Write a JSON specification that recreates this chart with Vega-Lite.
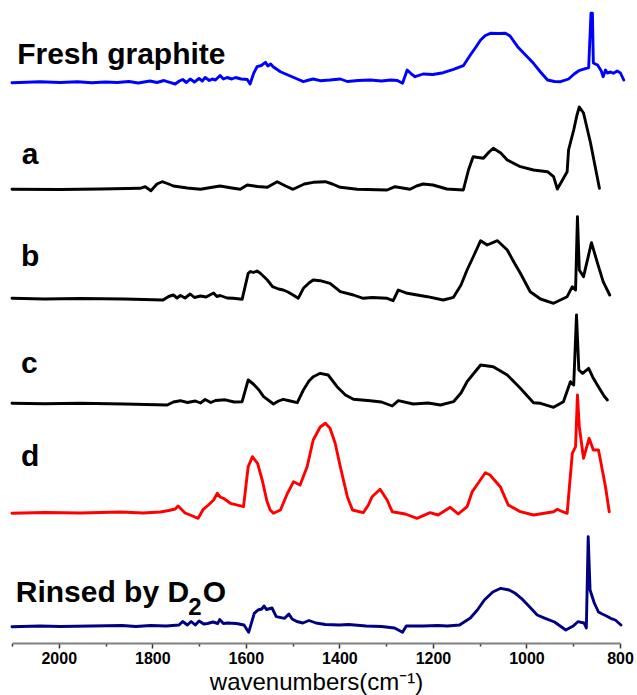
{
  "$schema": "https://vega.github.io/schema/vega-lite/v6.json",
  "width": 608,
  "height": 643,
  "autosize": {"type": "none"},
  "padding": {"left": 12, "top": 0, "right": 17, "bottom": 52},
  "background": "white",
  "config": {"view": {"stroke": null}, "font": "Liberation Sans"},
  "datasets": {
    "spectra": [
      {"series": "Fresh graphite", "wn": 2100, "abs": 5.603},
      {"series": "Fresh graphite", "wn": 2040, "abs": 5.612},
      {"series": "Fresh graphite", "wn": 1997, "abs": 5.605},
      {"series": "Fresh graphite", "wn": 1960, "abs": 5.612},
      {"series": "Fresh graphite", "wn": 1930, "abs": 5.603},
      {"series": "Fresh graphite", "wn": 1900, "abs": 5.61},
      {"series": "Fresh graphite", "wn": 1875, "abs": 5.605},
      {"series": "Fresh graphite", "wn": 1850, "abs": 5.615},
      {"series": "Fresh graphite", "wn": 1830, "abs": 5.6},
      {"series": "Fresh graphite", "wn": 1805, "abs": 5.62},
      {"series": "Fresh graphite", "wn": 1790, "abs": 5.605},
      {"series": "Fresh graphite", "wn": 1775, "abs": 5.625},
      {"series": "Fresh graphite", "wn": 1768, "abs": 5.613},
      {"series": "Fresh graphite", "wn": 1751, "abs": 5.59},
      {"series": "Fresh graphite", "wn": 1742, "abs": 5.62},
      {"series": "Fresh graphite", "wn": 1735, "abs": 5.635},
      {"series": "Fresh graphite", "wn": 1727, "abs": 5.605},
      {"series": "Fresh graphite", "wn": 1719, "abs": 5.64},
      {"series": "Fresh graphite", "wn": 1710, "abs": 5.61},
      {"series": "Fresh graphite", "wn": 1700, "abs": 5.645},
      {"series": "Fresh graphite", "wn": 1693, "abs": 5.62},
      {"series": "Fresh graphite", "wn": 1687, "abs": 5.655},
      {"series": "Fresh graphite", "wn": 1678, "abs": 5.625},
      {"series": "Fresh graphite", "wn": 1672, "abs": 5.64},
      {"series": "Fresh graphite", "wn": 1665, "abs": 5.63},
      {"series": "Fresh graphite", "wn": 1655, "abs": 5.675},
      {"series": "Fresh graphite", "wn": 1648, "abs": 5.64},
      {"series": "Fresh graphite", "wn": 1640, "abs": 5.655},
      {"series": "Fresh graphite", "wn": 1630, "abs": 5.64},
      {"series": "Fresh graphite", "wn": 1622, "abs": 5.655},
      {"series": "Fresh graphite", "wn": 1610, "abs": 5.64},
      {"series": "Fresh graphite", "wn": 1597, "abs": 5.635},
      {"series": "Fresh graphite", "wn": 1591, "abs": 5.59},
      {"series": "Fresh graphite", "wn": 1583, "abs": 5.7},
      {"series": "Fresh graphite", "wn": 1576, "abs": 5.763},
      {"series": "Fresh graphite", "wn": 1567, "abs": 5.775},
      {"series": "Fresh graphite", "wn": 1558, "abs": 5.807},
      {"series": "Fresh graphite", "wn": 1553, "abs": 5.77},
      {"series": "Fresh graphite", "wn": 1547, "abs": 5.79},
      {"series": "Fresh graphite", "wn": 1541, "abs": 5.76},
      {"series": "Fresh graphite", "wn": 1533, "abs": 5.735},
      {"series": "Fresh graphite", "wn": 1526, "abs": 5.713},
      {"series": "Fresh graphite", "wn": 1515, "abs": 5.69},
      {"series": "Fresh graphite", "wn": 1505, "abs": 5.67},
      {"series": "Fresh graphite", "wn": 1490, "abs": 5.64},
      {"series": "Fresh graphite", "wn": 1477, "abs": 5.613},
      {"series": "Fresh graphite", "wn": 1465, "abs": 5.63},
      {"series": "Fresh graphite", "wn": 1456, "abs": 5.64},
      {"series": "Fresh graphite", "wn": 1441, "abs": 5.623},
      {"series": "Fresh graphite", "wn": 1420, "abs": 5.63},
      {"series": "Fresh graphite", "wn": 1398, "abs": 5.64},
      {"series": "Fresh graphite", "wn": 1383, "abs": 5.615},
      {"series": "Fresh graphite", "wn": 1360, "abs": 5.625},
      {"series": "Fresh graphite", "wn": 1334, "abs": 5.63},
      {"series": "Fresh graphite", "wn": 1310, "abs": 5.62},
      {"series": "Fresh graphite", "wn": 1290, "abs": 5.63},
      {"series": "Fresh graphite", "wn": 1276, "abs": 5.625},
      {"series": "Fresh graphite", "wn": 1265, "abs": 5.597},
      {"series": "Fresh graphite", "wn": 1255, "abs": 5.73},
      {"series": "Fresh graphite", "wn": 1246, "abs": 5.69},
      {"series": "Fresh graphite", "wn": 1238, "abs": 5.663},
      {"series": "Fresh graphite", "wn": 1221, "abs": 5.69},
      {"series": "Fresh graphite", "wn": 1200, "abs": 5.685},
      {"series": "Fresh graphite", "wn": 1178, "abs": 5.703},
      {"series": "Fresh graphite", "wn": 1156, "abs": 5.737},
      {"series": "Fresh graphite", "wn": 1135, "abs": 5.773},
      {"series": "Fresh graphite", "wn": 1120, "abs": 5.88},
      {"series": "Fresh graphite", "wn": 1108, "abs": 5.96},
      {"series": "Fresh graphite", "wn": 1098, "abs": 6.03},
      {"series": "Fresh graphite", "wn": 1088, "abs": 6.075},
      {"series": "Fresh graphite", "wn": 1077, "abs": 6.097},
      {"series": "Fresh graphite", "wn": 1060, "abs": 6.095},
      {"series": "Fresh graphite", "wn": 1045, "abs": 6.097},
      {"series": "Fresh graphite", "wn": 1035, "abs": 6.07},
      {"series": "Fresh graphite", "wn": 1019, "abs": 5.963},
      {"series": "Fresh graphite", "wn": 1002, "abs": 5.88},
      {"series": "Fresh graphite", "wn": 985, "abs": 5.797},
      {"series": "Fresh graphite", "wn": 970, "abs": 5.71},
      {"series": "Fresh graphite", "wn": 955, "abs": 5.63},
      {"series": "Fresh graphite", "wn": 940, "abs": 5.615},
      {"series": "Fresh graphite", "wn": 927, "abs": 5.613},
      {"series": "Fresh graphite", "wn": 910, "abs": 5.64},
      {"series": "Fresh graphite", "wn": 898, "abs": 5.69},
      {"series": "Fresh graphite", "wn": 888, "abs": 5.723},
      {"series": "Fresh graphite", "wn": 867, "abs": 5.753},
      {"series": "Fresh graphite", "wn": 862, "abs": 6.297},
      {"series": "Fresh graphite", "wn": 859, "abs": 6.297},
      {"series": "Fresh graphite", "wn": 857, "abs": 5.8},
      {"series": "Fresh graphite", "wn": 848, "abs": 5.78},
      {"series": "Fresh graphite", "wn": 840, "abs": 5.72},
      {"series": "Fresh graphite", "wn": 836, "abs": 5.663},
      {"series": "Fresh graphite", "wn": 831, "abs": 5.73},
      {"series": "Fresh graphite", "wn": 827, "abs": 5.7},
      {"series": "Fresh graphite", "wn": 820, "abs": 5.71},
      {"series": "Fresh graphite", "wn": 814, "abs": 5.697},
      {"series": "Fresh graphite", "wn": 806, "abs": 5.72},
      {"series": "Fresh graphite", "wn": 799, "abs": 5.7},
      {"series": "Fresh graphite", "wn": 792, "abs": 5.63},

      {"series": "a", "wn": 2100, "abs": 4.537},
      {"series": "a", "wn": 1997, "abs": 4.535},
      {"series": "a", "wn": 1911, "abs": 4.54},
      {"series": "a", "wn": 1826, "abs": 4.547},
      {"series": "a", "wn": 1815, "abs": 4.563},
      {"series": "a", "wn": 1803, "abs": 4.523},
      {"series": "a", "wn": 1790, "abs": 4.59},
      {"series": "a", "wn": 1779, "abs": 4.613},
      {"series": "a", "wn": 1765, "abs": 4.59},
      {"series": "a", "wn": 1755, "abs": 4.57},
      {"series": "a", "wn": 1725, "abs": 4.55},
      {"series": "a", "wn": 1697, "abs": 4.537},
      {"series": "a", "wn": 1675, "abs": 4.555},
      {"series": "a", "wn": 1655, "abs": 4.57},
      {"series": "a", "wn": 1630, "abs": 4.55},
      {"series": "a", "wn": 1612, "abs": 4.537},
      {"series": "a", "wn": 1597, "abs": 4.58},
      {"series": "a", "wn": 1575, "abs": 4.565},
      {"series": "a", "wn": 1554, "abs": 4.557},
      {"series": "a", "wn": 1533, "abs": 4.613},
      {"series": "a", "wn": 1515, "abs": 4.57},
      {"series": "a", "wn": 1499, "abs": 4.537},
      {"series": "a", "wn": 1475, "abs": 4.59},
      {"series": "a", "wn": 1456, "abs": 4.607},
      {"series": "a", "wn": 1430, "abs": 4.613},
      {"series": "a", "wn": 1415, "abs": 4.59},
      {"series": "a", "wn": 1398, "abs": 4.557},
      {"series": "a", "wn": 1362, "abs": 4.537},
      {"series": "a", "wn": 1298, "abs": 4.53},
      {"series": "a", "wn": 1281, "abs": 4.563},
      {"series": "a", "wn": 1249, "abs": 4.537},
      {"series": "a", "wn": 1235, "abs": 4.57},
      {"series": "a", "wn": 1221, "abs": 4.59},
      {"series": "a", "wn": 1200, "abs": 4.58},
      {"series": "a", "wn": 1170, "abs": 4.54},
      {"series": "a", "wn": 1135, "abs": 4.53},
      {"series": "a", "wn": 1124, "abs": 4.73},
      {"series": "a", "wn": 1114, "abs": 4.863},
      {"series": "a", "wn": 1092, "abs": 4.847},
      {"series": "a", "wn": 1080, "abs": 4.91},
      {"series": "a", "wn": 1071, "abs": 4.947},
      {"series": "a", "wn": 1055, "abs": 4.9},
      {"series": "a", "wn": 1041, "abs": 4.83},
      {"series": "a", "wn": 1013, "abs": 4.763},
      {"series": "a", "wn": 985, "abs": 4.73},
      {"series": "a", "wn": 955, "abs": 4.713},
      {"series": "a", "wn": 942, "abs": 4.663},
      {"series": "a", "wn": 934, "abs": 4.54},
      {"series": "a", "wn": 923, "abs": 4.63},
      {"series": "a", "wn": 913, "abs": 4.713},
      {"series": "a", "wn": 910, "abs": 4.93},
      {"series": "a", "wn": 899, "abs": 5.13},
      {"series": "a", "wn": 892, "abs": 5.28},
      {"series": "a", "wn": 887, "abs": 5.36},
      {"series": "a", "wn": 878, "abs": 5.3},
      {"series": "a", "wn": 863, "abs": 5.0},
      {"series": "a", "wn": 844, "abs": 4.547},

      {"series": "b", "wn": 2100, "abs": 3.447},
      {"series": "b", "wn": 2030, "abs": 3.44},
      {"series": "b", "wn": 1954, "abs": 3.445},
      {"series": "b", "wn": 1860, "abs": 3.44},
      {"series": "b", "wn": 1777, "abs": 3.43},
      {"series": "b", "wn": 1765, "abs": 3.465},
      {"series": "b", "wn": 1755, "abs": 3.48},
      {"series": "b", "wn": 1747, "abs": 3.45},
      {"series": "b", "wn": 1740, "abs": 3.475},
      {"series": "b", "wn": 1730, "abs": 3.45},
      {"series": "b", "wn": 1719, "abs": 3.49},
      {"series": "b", "wn": 1710, "abs": 3.455},
      {"series": "b", "wn": 1697, "abs": 3.47},
      {"series": "b", "wn": 1685, "abs": 3.46},
      {"series": "b", "wn": 1669, "abs": 3.5},
      {"series": "b", "wn": 1662, "abs": 3.465},
      {"series": "b", "wn": 1655, "abs": 3.475},
      {"series": "b", "wn": 1640, "abs": 3.45},
      {"series": "b", "wn": 1627, "abs": 3.447},
      {"series": "b", "wn": 1608, "abs": 3.437},
      {"series": "b", "wn": 1595, "abs": 3.697},
      {"series": "b", "wn": 1590, "abs": 3.715},
      {"series": "b", "wn": 1584, "abs": 3.705},
      {"series": "b", "wn": 1576, "abs": 3.72},
      {"series": "b", "wn": 1569, "abs": 3.697},
      {"series": "b", "wn": 1554, "abs": 3.63},
      {"series": "b", "wn": 1543, "abs": 3.563},
      {"series": "b", "wn": 1530, "abs": 3.54},
      {"series": "b", "wn": 1520, "abs": 3.53},
      {"series": "b", "wn": 1510, "abs": 3.51},
      {"series": "b", "wn": 1499, "abs": 3.48},
      {"series": "b", "wn": 1488, "abs": 3.447},
      {"series": "b", "wn": 1477, "abs": 3.547},
      {"series": "b", "wn": 1465, "abs": 3.6},
      {"series": "b", "wn": 1456, "abs": 3.63},
      {"series": "b", "wn": 1441, "abs": 3.623},
      {"series": "b", "wn": 1420, "abs": 3.597},
      {"series": "b", "wn": 1398, "abs": 3.513},
      {"series": "b", "wn": 1370, "abs": 3.48},
      {"series": "b", "wn": 1349, "abs": 3.447},
      {"series": "b", "wn": 1330, "abs": 3.455},
      {"series": "b", "wn": 1298, "abs": 3.447},
      {"series": "b", "wn": 1285, "abs": 3.423},
      {"series": "b", "wn": 1274, "abs": 3.53},
      {"series": "b", "wn": 1255, "abs": 3.497},
      {"series": "b", "wn": 1212, "abs": 3.463},
      {"series": "b", "wn": 1178, "abs": 3.43},
      {"series": "b", "wn": 1156, "abs": 3.457},
      {"series": "b", "wn": 1140, "abs": 3.58},
      {"series": "b", "wn": 1127, "abs": 3.73},
      {"series": "b", "wn": 1112, "abs": 3.88},
      {"series": "b", "wn": 1098, "abs": 4.023},
      {"series": "b", "wn": 1084, "abs": 3.98},
      {"series": "b", "wn": 1062, "abs": 4.023},
      {"series": "b", "wn": 1041, "abs": 3.93},
      {"series": "b", "wn": 1027, "abs": 3.81},
      {"series": "b", "wn": 1013, "abs": 3.697},
      {"series": "b", "wn": 992, "abs": 3.513},
      {"series": "b", "wn": 970, "abs": 3.44},
      {"series": "b", "wn": 942, "abs": 3.397},
      {"series": "b", "wn": 913, "abs": 3.463},
      {"series": "b", "wn": 902, "abs": 3.563},
      {"series": "b", "wn": 895, "abs": 3.53},
      {"series": "b", "wn": 891, "abs": 4.263},
      {"series": "b", "wn": 887, "abs": 3.73},
      {"series": "b", "wn": 878, "abs": 3.663},
      {"series": "b", "wn": 861, "abs": 4.003},
      {"series": "b", "wn": 848, "abs": 3.797},
      {"series": "b", "wn": 836, "abs": 3.613},
      {"series": "b", "wn": 822, "abs": 3.48},

      {"series": "c", "wn": 2100, "abs": 2.397},
      {"series": "c", "wn": 2030, "abs": 2.393},
      {"series": "c", "wn": 1954, "abs": 2.397},
      {"series": "c", "wn": 1860, "abs": 2.39},
      {"series": "c", "wn": 1768, "abs": 2.38},
      {"series": "c", "wn": 1755, "abs": 2.41},
      {"series": "c", "wn": 1740, "abs": 2.423},
      {"series": "c", "wn": 1725, "abs": 2.405},
      {"series": "c", "wn": 1708, "abs": 2.42},
      {"series": "c", "wn": 1697, "abs": 2.4},
      {"series": "c", "wn": 1687, "abs": 2.435},
      {"series": "c", "wn": 1675, "abs": 2.405},
      {"series": "c", "wn": 1665, "abs": 2.425},
      {"series": "c", "wn": 1644, "abs": 2.432},
      {"series": "c", "wn": 1625, "abs": 2.41},
      {"series": "c", "wn": 1608, "abs": 2.413},
      {"series": "c", "wn": 1595, "abs": 2.63},
      {"series": "c", "wn": 1584, "abs": 2.59},
      {"series": "c", "wn": 1572, "abs": 2.53},
      {"series": "c", "wn": 1562, "abs": 2.463},
      {"series": "c", "wn": 1541, "abs": 2.39},
      {"series": "c", "wn": 1530, "abs": 2.42},
      {"series": "c", "wn": 1520, "abs": 2.437},
      {"series": "c", "wn": 1505, "abs": 2.42},
      {"series": "c", "wn": 1490, "abs": 2.403},
      {"series": "c", "wn": 1477, "abs": 2.53},
      {"series": "c", "wn": 1465, "abs": 2.62},
      {"series": "c", "wn": 1456, "abs": 2.663},
      {"series": "c", "wn": 1441, "abs": 2.697},
      {"series": "c", "wn": 1424, "abs": 2.68},
      {"series": "c", "wn": 1405, "abs": 2.563},
      {"series": "c", "wn": 1387, "abs": 2.48},
      {"series": "c", "wn": 1370, "abs": 2.437},
      {"series": "c", "wn": 1334, "abs": 2.423},
      {"series": "c", "wn": 1310, "abs": 2.41},
      {"series": "c", "wn": 1287, "abs": 2.37},
      {"series": "c", "wn": 1274, "abs": 2.423},
      {"series": "c", "wn": 1242, "abs": 2.39},
      {"series": "c", "wn": 1210, "abs": 2.4},
      {"series": "c", "wn": 1184, "abs": 2.38},
      {"series": "c", "wn": 1156, "abs": 2.413},
      {"series": "c", "wn": 1140, "abs": 2.5},
      {"series": "c", "wn": 1127, "abs": 2.613},
      {"series": "c", "wn": 1112, "abs": 2.7},
      {"series": "c", "wn": 1098, "abs": 2.78},
      {"series": "c", "wn": 1071, "abs": 2.763},
      {"series": "c", "wn": 1041, "abs": 2.68},
      {"series": "c", "wn": 1013, "abs": 2.547},
      {"series": "c", "wn": 985, "abs": 2.403},
      {"series": "c", "wn": 970, "abs": 2.397},
      {"series": "c", "wn": 942, "abs": 2.357},
      {"series": "c", "wn": 921, "abs": 2.413},
      {"series": "c", "wn": 906, "abs": 2.613},
      {"series": "c", "wn": 899, "abs": 2.58},
      {"series": "c", "wn": 893, "abs": 3.28},
      {"series": "c", "wn": 888, "abs": 2.73},
      {"series": "c", "wn": 880, "abs": 2.697},
      {"series": "c", "wn": 867, "abs": 2.747},
      {"series": "c", "wn": 857, "abs": 2.647},
      {"series": "c", "wn": 842, "abs": 2.53},
      {"series": "c", "wn": 834, "abs": 2.47},
      {"series": "c", "wn": 827, "abs": 2.43},

      {"series": "d", "wn": 2100, "abs": 1.297},
      {"series": "d", "wn": 2030, "abs": 1.305},
      {"series": "d", "wn": 1954, "abs": 1.3},
      {"series": "d", "wn": 1868, "abs": 1.31},
      {"series": "d", "wn": 1820, "abs": 1.3},
      {"series": "d", "wn": 1783, "abs": 1.31},
      {"series": "d", "wn": 1765, "abs": 1.325},
      {"series": "d", "wn": 1751, "abs": 1.34},
      {"series": "d", "wn": 1745, "abs": 1.37},
      {"series": "d", "wn": 1740, "abs": 1.347},
      {"series": "d", "wn": 1730, "abs": 1.3},
      {"series": "d", "wn": 1719, "abs": 1.28},
      {"series": "d", "wn": 1702, "abs": 1.247},
      {"series": "d", "wn": 1691, "abs": 1.337},
      {"series": "d", "wn": 1680, "abs": 1.38},
      {"series": "d", "wn": 1669, "abs": 1.43},
      {"series": "d", "wn": 1661, "abs": 1.497},
      {"series": "d", "wn": 1655, "abs": 1.46},
      {"series": "d", "wn": 1648, "abs": 1.447},
      {"series": "d", "wn": 1633, "abs": 1.397},
      {"series": "d", "wn": 1605, "abs": 1.363},
      {"series": "d", "wn": 1595, "abs": 1.763},
      {"series": "d", "wn": 1586, "abs": 1.863},
      {"series": "d", "wn": 1575, "abs": 1.797},
      {"series": "d", "wn": 1565, "abs": 1.63},
      {"series": "d", "wn": 1555, "abs": 1.42},
      {"series": "d", "wn": 1548, "abs": 1.33},
      {"series": "d", "wn": 1541, "abs": 1.297},
      {"series": "d", "wn": 1526, "abs": 1.33},
      {"series": "d", "wn": 1511, "abs": 1.497},
      {"series": "d", "wn": 1498, "abs": 1.613},
      {"series": "d", "wn": 1484, "abs": 1.58},
      {"series": "d", "wn": 1469, "abs": 1.763},
      {"series": "d", "wn": 1456, "abs": 2.03},
      {"series": "d", "wn": 1441, "abs": 2.16},
      {"series": "d", "wn": 1430, "abs": 2.197},
      {"series": "d", "wn": 1420, "abs": 2.147},
      {"series": "d", "wn": 1409, "abs": 1.997},
      {"series": "d", "wn": 1398, "abs": 1.763},
      {"series": "d", "wn": 1383, "abs": 1.463},
      {"series": "d", "wn": 1372, "abs": 1.33},
      {"series": "d", "wn": 1349, "abs": 1.303},
      {"series": "d", "wn": 1338, "abs": 1.38},
      {"series": "d", "wn": 1330, "abs": 1.463},
      {"series": "d", "wn": 1313, "abs": 1.537},
      {"series": "d", "wn": 1298, "abs": 1.43},
      {"series": "d", "wn": 1287, "abs": 1.313},
      {"series": "d", "wn": 1259, "abs": 1.29},
      {"series": "d", "wn": 1234, "abs": 1.247},
      {"series": "d", "wn": 1206, "abs": 1.303},
      {"series": "d", "wn": 1189, "abs": 1.28},
      {"series": "d", "wn": 1163, "abs": 1.357},
      {"series": "d", "wn": 1146, "abs": 1.29},
      {"series": "d", "wn": 1127, "abs": 1.363},
      {"series": "d", "wn": 1116, "abs": 1.513},
      {"series": "d", "wn": 1106, "abs": 1.58},
      {"series": "d", "wn": 1088, "abs": 1.703},
      {"series": "d", "wn": 1078, "abs": 1.68},
      {"series": "d", "wn": 1056, "abs": 1.563},
      {"series": "d", "wn": 1039, "abs": 1.38},
      {"series": "d", "wn": 1013, "abs": 1.313},
      {"series": "d", "wn": 985, "abs": 1.28},
      {"series": "d", "wn": 942, "abs": 1.313},
      {"series": "d", "wn": 934, "abs": 1.337},
      {"series": "d", "wn": 923, "abs": 1.313},
      {"series": "d", "wn": 913, "abs": 1.297},
      {"series": "d", "wn": 902, "abs": 1.897},
      {"series": "d", "wn": 895, "abs": 1.963},
      {"series": "d", "wn": 891, "abs": 2.48},
      {"series": "d", "wn": 887, "abs": 2.163},
      {"series": "d", "wn": 878, "abs": 1.847},
      {"series": "d", "wn": 866, "abs": 2.047},
      {"series": "d", "wn": 857, "abs": 1.93},
      {"series": "d", "wn": 846, "abs": 1.93},
      {"series": "d", "wn": 831, "abs": 1.563},
      {"series": "d", "wn": 823, "abs": 1.313},

      {"series": "Rinsed", "wn": 2100, "abs": 0.163},
      {"series": "Rinsed", "wn": 2040, "abs": 0.17},
      {"series": "Rinsed", "wn": 1997, "abs": 0.165},
      {"series": "Rinsed", "wn": 1930, "abs": 0.17},
      {"series": "Rinsed", "wn": 1865, "abs": 0.175},
      {"series": "Rinsed", "wn": 1835, "abs": 0.165},
      {"series": "Rinsed", "wn": 1804, "abs": 0.175},
      {"series": "Rinsed", "wn": 1770, "abs": 0.17},
      {"series": "Rinsed", "wn": 1743, "abs": 0.18},
      {"series": "Rinsed", "wn": 1735, "abs": 0.215},
      {"series": "Rinsed", "wn": 1725, "abs": 0.18},
      {"series": "Rinsed", "wn": 1717, "abs": 0.215},
      {"series": "Rinsed", "wn": 1708, "abs": 0.18},
      {"series": "Rinsed", "wn": 1700, "abs": 0.22},
      {"series": "Rinsed", "wn": 1690, "abs": 0.19},
      {"series": "Rinsed", "wn": 1682, "abs": 0.195},
      {"series": "Rinsed", "wn": 1670, "abs": 0.21},
      {"series": "Rinsed", "wn": 1660, "abs": 0.195},
      {"series": "Rinsed", "wn": 1656, "abs": 0.235},
      {"series": "Rinsed", "wn": 1648, "abs": 0.195},
      {"series": "Rinsed", "wn": 1639, "abs": 0.2},
      {"series": "Rinsed", "wn": 1620, "abs": 0.195},
      {"series": "Rinsed", "wn": 1604, "abs": 0.18},
      {"series": "Rinsed", "wn": 1594, "abs": 0.107},
      {"series": "Rinsed", "wn": 1582, "abs": 0.297},
      {"series": "Rinsed", "wn": 1574, "abs": 0.33},
      {"series": "Rinsed", "wn": 1566, "abs": 0.34},
      {"series": "Rinsed", "wn": 1561, "abs": 0.37},
      {"series": "Rinsed", "wn": 1556, "abs": 0.335},
      {"series": "Rinsed", "wn": 1552, "abs": 0.34},
      {"series": "Rinsed", "wn": 1544, "abs": 0.35},
      {"series": "Rinsed", "wn": 1535, "abs": 0.263},
      {"series": "Rinsed", "wn": 1517, "abs": 0.247},
      {"series": "Rinsed", "wn": 1508, "abs": 0.29},
      {"series": "Rinsed", "wn": 1501, "abs": 0.24},
      {"series": "Rinsed", "wn": 1491, "abs": 0.215},
      {"series": "Rinsed", "wn": 1478, "abs": 0.2},
      {"series": "Rinsed", "wn": 1465, "abs": 0.225},
      {"series": "Rinsed", "wn": 1450, "abs": 0.2},
      {"series": "Rinsed", "wn": 1430, "abs": 0.185},
      {"series": "Rinsed", "wn": 1400, "abs": 0.18},
      {"series": "Rinsed", "wn": 1380, "abs": 0.185},
      {"series": "Rinsed", "wn": 1343, "abs": 0.17},
      {"series": "Rinsed", "wn": 1310, "abs": 0.165},
      {"series": "Rinsed", "wn": 1282, "abs": 0.15},
      {"series": "Rinsed", "wn": 1265, "abs": 0.107},
      {"series": "Rinsed", "wn": 1257, "abs": 0.17},
      {"series": "Rinsed", "wn": 1220, "abs": 0.17},
      {"series": "Rinsed", "wn": 1190, "abs": 0.175},
      {"series": "Rinsed", "wn": 1169, "abs": 0.17},
      {"series": "Rinsed", "wn": 1143, "abs": 0.18},
      {"series": "Rinsed", "wn": 1120, "abs": 0.25},
      {"series": "Rinsed", "wn": 1105, "abs": 0.33},
      {"series": "Rinsed", "wn": 1090, "abs": 0.43},
      {"series": "Rinsed", "wn": 1072, "abs": 0.51},
      {"series": "Rinsed", "wn": 1055, "abs": 0.547},
      {"series": "Rinsed", "wn": 1037, "abs": 0.53},
      {"series": "Rinsed", "wn": 1025, "abs": 0.5},
      {"series": "Rinsed", "wn": 1011, "abs": 0.447},
      {"series": "Rinsed", "wn": 995, "abs": 0.37},
      {"series": "Rinsed", "wn": 977, "abs": 0.28},
      {"series": "Rinsed", "wn": 960, "abs": 0.247},
      {"series": "Rinsed", "wn": 940, "abs": 0.21},
      {"series": "Rinsed", "wn": 916, "abs": 0.13},
      {"series": "Rinsed", "wn": 900, "abs": 0.17},
      {"series": "Rinsed", "wn": 890, "abs": 0.213},
      {"series": "Rinsed", "wn": 877, "abs": 0.2},
      {"series": "Rinsed", "wn": 872, "abs": 0.15},
      {"series": "Rinsed", "wn": 868, "abs": 1.063},
      {"series": "Rinsed", "wn": 864, "abs": 0.53},
      {"series": "Rinsed", "wn": 855, "abs": 0.4},
      {"series": "Rinsed", "wn": 846, "abs": 0.31},
      {"series": "Rinsed", "wn": 838, "abs": 0.29},
      {"series": "Rinsed", "wn": 829, "abs": 0.27},
      {"series": "Rinsed", "wn": 820, "abs": 0.247},
      {"series": "Rinsed", "wn": 810, "abs": 0.23},
      {"series": "Rinsed", "wn": 798, "abs": 0.18}
    ],
    "labels": [
      {"label": "Fresh graphite", "wn": 2089, "abs": 5.79},
      {"label": "a", "wn": 2079, "abs": 4.79},
      {"label": "b", "wn": 2081, "abs": 3.77},
      {"label": "c", "wn": 2081, "abs": 2.7},
      {"label": "d", "wn": 2081, "abs": 1.77},
      {"label": "Rinsed by D", "wn": 2092, "abs": 0.41},
      {"label": "O", "wn": 1692, "abs": 0.41}
    ],
    "subscripts": [
      {"label": "2", "wn": 1723, "abs": 0.28}
    ]
  },
  "layer": [
    {
      "data": {"name": "spectra"},
      "mark": {"type": "line", "strokeWidth": 2.9, "strokeJoin": "round", "strokeCap": "round"},
      "encoding": {
        "x": {
          "field": "wn", "type": "quantitative",
          "scale": {"domain": [800, 2100], "reverse": true, "nice": false, "zero": false},
          "axis": {
            "values": [2100, 2000, 1900, 1800, 1700, 1600, 1500, 1400, 1300, 1200, 1100, 1000, 900, 800],
            "format": "d",
            "labelExpr": "datum.value % 200 === 0 ? datum.label : ''",
            "title": "wavenumbers(cm⁻¹)",
            "titleFont": "Liberation Sans",
            "titleFontSize": 24,
            "titleFontWeight": "normal",
            "titleColor": "black",
            "titlePadding": 4,
            "labelFont": "Liberation Sans",
            "labelFontSize": 16,
            "labelFontWeight": "bold",
            "labelColor": "black",
            "labelPadding": 2,
            "labelFlush": false,
            "labelOverlap": false,
            "tickSize": {"condition": {"test": "datum.value % 200 === 0", "value": 5}, "value": 3},
            "tickColor": "#333333",
            "tickWidth": 1.5,
            "domainColor": "#808080",
            "domainWidth": 2,
            "grid": false
          }
        },
        "y": {
          "field": "abs", "type": "quantitative",
          "scale": {"domain": [0, 6.43], "nice": false, "zero": false},
          "axis": null
        },
        "color": {
          "field": "series", "type": "nominal",
          "scale": {"domain": ["Fresh graphite", "a", "b", "c", "d", "Rinsed"], "range": ["#0000ff", "#000000", "#000000", "#000000", "#ff0000", "#000080"]},
          "legend": null
        }
      }
    },
    {
      "data": {"name": "labels"},
      "mark": {"type": "text", "align": "left", "baseline": "alphabetic", "font": "Liberation Sans", "fontWeight": "bold", "fontSize": 30, "color": "black"},
      "encoding": {
        "x": {"field": "wn", "type": "quantitative"},
        "y": {"field": "abs", "type": "quantitative"},
        "text": {"field": "label"}
      }
    },
    {
      "data": {"name": "subscripts"},
      "mark": {"type": "text", "align": "left", "baseline": "alphabetic", "font": "Liberation Sans", "fontWeight": "bold", "fontSize": 24, "color": "black"},
      "encoding": {
        "x": {"field": "wn", "type": "quantitative"},
        "y": {"field": "abs", "type": "quantitative"},
        "text": {"field": "label"}
      }
    }
  ]
}
